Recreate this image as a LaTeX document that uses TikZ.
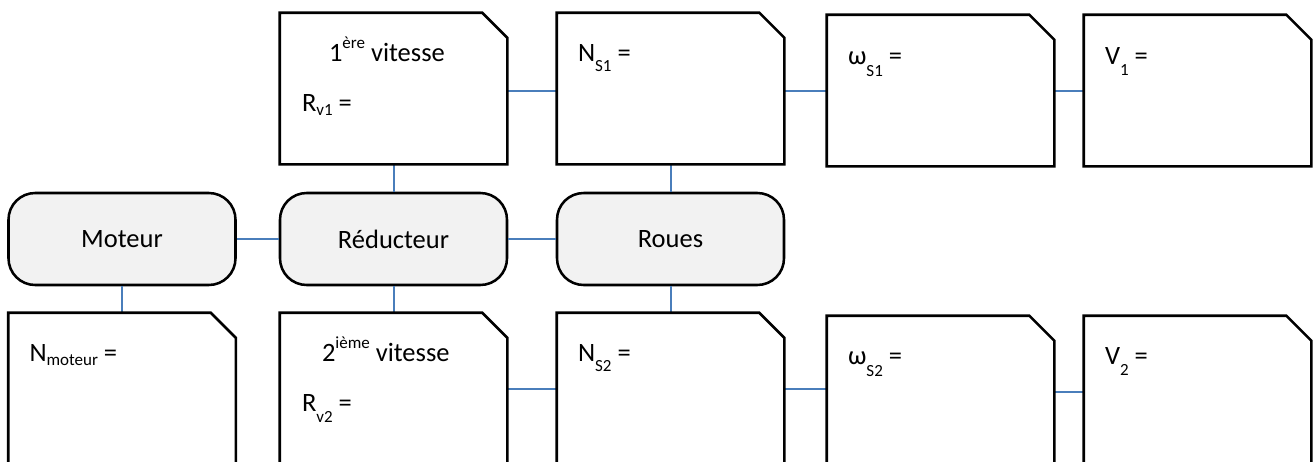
\documentclass[tikz,border=0pt]{standalone}
\usepackage{fontspec}
\setmainfont{Carlito}
\usetikzlibrary{calc}
\definecolor{linkblue}{HTML}{4A7EBB}
\definecolor{capfill}{HTML}{F2F2F2}
% raised / lowered small text for exponents and indices
\newcommand\supx[1]{\raisebox{9.75pt}{\fontsize{12.75}{14}\selectfont #1}}
\newcommand\subx[2]{\raisebox{-#1}{\fontsize{12.75}{14}\selectfont #2}}

\begin{document}
\begin{tikzpicture}[x=0.75pt,y=-0.75pt,
  card/.style={minimum width=170.25pt, minimum height=113.25pt, inner sep=0pt},
  unit/.style={draw=black, line width=1.9pt, fill=capfill, rounded corners=20pt,
    minimum width=170.25pt, minimum height=69pt, inner sep=0pt,
    font=\fontsize{19.875}{24}\selectfont},
  cardline/.style={draw=black, line width=1.9pt, fill=white, line join=miter},
  link/.style={draw=linkblue, line width=1.5pt},
  lbl/.style={anchor=base west, inner sep=0pt, font=\fontsize{19.875}{24}\selectfont}]
\useasboundingbox (0,0) rectangle (1316,461);

% chain of components
\node[unit] (mot) at (122,239) {Moteur};
\node[unit] (red) at (393.5,239) {Réducteur};
\node[unit] (rou) at (670.5,239) {Roues};

% answer cards, first gear (top) and second gear (bottom)
\node[card] (t1) at (393.5,88.5) {};
\node[card] (t2) at (670.5,88.5) {};
\node[card] (t3) at (940.5,90.5) {};
\node[card] (t4) at (1197.5,90.5) {};
\node[card] (b0) at (122,388.5) {};
\node[card] (b1) at (393.5,388.5) {};
\node[card] (b2) at (670.5,388.5) {};
\node[card] (b3) at (940.5,391.5) {};
\node[card] (b4) at (1197.5,391.5) {};

% connectors
\draw[link] (mot.east) -- (red.west);
\draw[link] (red.east) -- (rou.west);
\draw[link] (red.north) -- (t1.south);
\draw[link] (rou.north) -- (t2.south);
\draw[link] (mot.south) -- (b0.north);
\draw[link] (red.south) -- (b1.north);
\draw[link] (rou.south) -- (b2.north);
\draw[link] ($(t1.east)+(0,2)$) -- ($(t2.west)+(0,2)$);
\draw[link] ($(t2.east)+(0,2)$) -- (t3.west);
\draw[link] (t3.east) -- (t4.west);
\draw[link] (b1.east) -- (b2.west);
\draw[link] (b2.east) -- (b2.east -| b3.west);
\draw[link] (b3.east) -- (b4.west);

% card outlines with the clipped upper right corner
\foreach \n in {t1,t2,t3,t4,b0,b1,b2,b3,b4}
  \draw[cardline] (\n.south west) -- (\n.north west)
    -- ($(\n.north east)+(-25,0)$) -- ($(\n.north east)+(0,25)$)
    -- (\n.south east) -- cycle;

% card texts
\node[lbl] (t1a) at ($(t1.north west)+(49,49)$) {1\supx{ère} vitesse};
\node[lbl] (t1b) at ($(t1.north west)+(22,99)$) {R\subx{2.5pt}{v1} =};
\node[lbl] (t2a) at ($(t2.north west)+(21,49)$) {N\subx{7.5pt}{S1} =};
\node[lbl] (t3a) at ($(t3.north west)+(21,50)$) {ω\subx{8.5pt}{S1} =};
\node[lbl] (t4a) at ($(t4.north west)+(21,50)$) {V\subx{8.25pt}{1} =};
\node[lbl] (b0a) at ($(b0.north west)+(21,49)$) {N\subx{3pt}{moteur} =};
\node[lbl] (b1a) at ($(b1.north west)+(42,49)$) {2\supx{ième} vitesse};
\node[lbl] (b1b) at ($(b1.north west)+(22,99)$) {R\subx{8.25pt}{v2} =};
\node[lbl] (b2a) at ($(b2.north west)+(21,49)$) {N\subx{7.5pt}{S2} =};
\node[lbl] (b3a) at ($(b3.north west)+(21,49)$) {ω\subx{8.5pt}{S2} =};
\node[lbl] (b4a) at ($(b4.north west)+(21,49)$) {V\subx{8.25pt}{2} =};
\end{tikzpicture}
\end{document}
